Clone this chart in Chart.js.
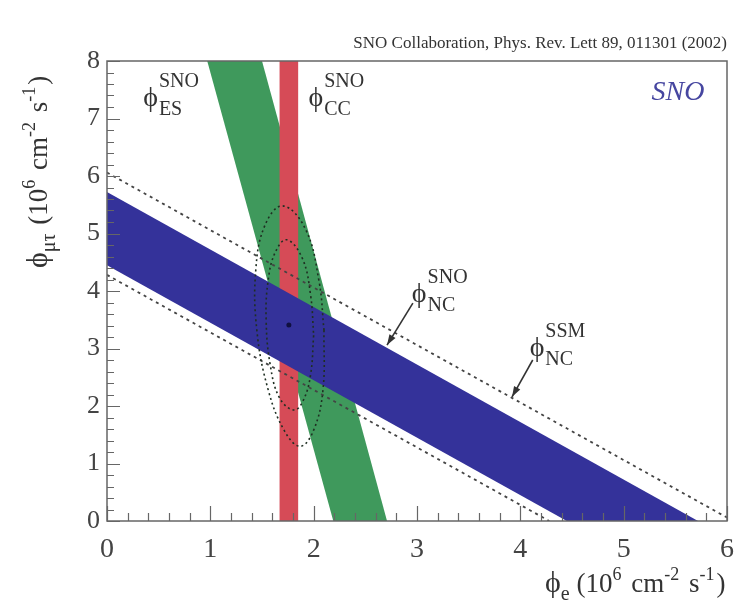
<!DOCTYPE html>
<html>
<head>
<meta charset="utf-8">
<script src="https://cdn.jsdelivr.net/npm/chart.js@4"></script>
<style>
  html, body { margin: 0; padding: 0; background: #fff; }
  #wrap { width: 747px; height: 614px; position: relative; }
</style>
</head>
<body>
<div id="wrap"><canvas id="chart"></canvas></div>
<script>
"use strict";

// axis ranges
const xMin = 0, xMax = 6;
const yMin = 0, yMax = 8;

// flux bands, corners
const ncBand = [{x: 0, y: 5.72}, {x: 5.72, y: 0}, {x: 4.45, y: 0}, {x: 0, y: 4.45}];
const ccBand = [{x: 1.67, y: 0}, {x: 1.85, y: 0}, {x: 1.85, y: 8}, {x: 1.67, y: 8}];
const esBand = [{x: 0.97, y: 8}, {x: 1.50, y: 8}, {x: 2.71, y: 0}, {x: 2.19, y: 0}];

// SSM prediction (dashed lines)
const ssmUpper = [{x: 0, y: 6.06}, {x: 6, y: 0.06}];
const ssmLower = [{x: 0, y: 4.28}, {x: 4.28, y: 0}];

// confidence contours around the best fit point
const contourOuter = [
  {x: 2.10, y: 3.32}, {x: 2.09, y: 2.28}, {x: 2.00, y: 1.58}, {x: 1.87, y: 1.30},
  {x: 1.72, y: 1.56}, {x: 1.56, y: 2.28}, {x: 1.45, y: 3.32}, {x: 1.44, y: 4.37},
  {x: 1.53, y: 5.15}, {x: 1.70, y: 5.48}, {x: 1.92, y: 5.08}, {x: 2.05, y: 4.19},
  {x: 2.10, y: 3.32}
];
const contourInner = [
  {x: 2.00, y: 3.23}, {x: 1.97, y: 2.54}, {x: 1.90, y: 2.10}, {x: 1.81, y: 1.93},
  {x: 1.67, y: 2.14}, {x: 1.58, y: 2.71}, {x: 1.54, y: 3.50}, {x: 1.56, y: 4.19},
  {x: 1.63, y: 4.68}, {x: 1.74, y: 4.89}, {x: 1.89, y: 4.57}, {x: 1.97, y: 3.93},
  {x: 2.00, y: 3.23}
];
const bestFit = [{x: 1.76, y: 3.41}];

// arrows, tail -> tip
const arrowSNO = [{x: 2.96, y: 3.79}, {x: 2.71, y: 3.06}];
const arrowSSM = [{x: 4.12, y: 2.80}, {x: 3.92, y: 2.16}];

// flux labels (anchor = left / baseline of the phi)
const fluxLabels = [
  {x: 0.35, y: 7.22, sup: 'SNO', sub: 'ES'},
  {x: 1.95, y: 7.22, sup: 'SNO', sub: 'CC'},
  {x: 2.95, y: 3.81, sup: 'SNO', sub: 'NC'},
  {x: 4.09, y: 2.87, sup: 'SSM', sub: 'NC'}
];
const caption = 'SNO Collaboration, Phys. Rev. Lett 89, 011301 (2002)';

const SERIF = '"Liberation Serif", "DejaVu Serif", serif';
const PHI = '\u03D5';

function drawRich(ctx, parts, x, y) {
  let cx = x;
  parts.forEach(p => {
    ctx.font = p.size + 'px ' + SERIF;
    ctx.fillText(p.t, cx, y + (p.dy || 0));
    cx += ctx.measureText(p.t).width + (p.gap || 0);
  });
}

function drawPhi(ctx, px, py, sup, sub) {
  ctx.font = '28px ' + SERIF;
  ctx.fillText(PHI, px, py);
  const w = ctx.measureText(PHI).width + 1;
  ctx.font = '20px ' + SERIF;
  ctx.fillText(sup, px + w, py - 19);
  ctx.fillText(sub, px + w, py + 9);
}

// box around the plot with inward ticks
const frame = {
  id: 'frame',
  afterDatasetsDraw(chart) {
    const {ctx, chartArea: a, scales: {x, y}} = chart;
    ctx.save();
    ctx.strokeStyle = '#666';
    ctx.lineWidth = 1.5;
    ctx.strokeRect(a.left, a.top, a.right - a.left, a.bottom - a.top);
    ctx.lineWidth = 1.2;
    ctx.beginPath();
    for (let i = 0; i <= 30; i++) {
      const px = Math.round(x.getPixelForValue(i / 5)) + 0.5;
      const len = i % 5 === 0 ? 15 : 8;
      ctx.moveTo(px, a.bottom);
      ctx.lineTo(px, a.bottom - len);
    }
    for (let i = 0; i <= 40; i++) {
      const py = Math.round(y.getPixelForValue(i / 5)) + 0.5;
      const len = i % 5 === 0 ? 13 : 7;
      ctx.moveTo(a.left, py);
      ctx.lineTo(a.left + len, py);
    }
    ctx.stroke();

    // arrow heads on the arrow datasets
    chart.data.datasets.forEach((ds, i) => {
      if (!ds.arrow) return;
      const pts = chart.getDatasetMeta(i).data;
      const p0 = pts[pts.length - 2], p1 = pts[pts.length - 1];
      const ang = Math.atan2(p1.y - p0.y, p1.x - p0.x);
      ctx.fillStyle = ds.borderColor;
      ctx.beginPath();
      ctx.moveTo(p1.x, p1.y);
      ctx.lineTo(p1.x - 11 * Math.cos(ang - 0.33), p1.y - 11 * Math.sin(ang - 0.33));
      ctx.lineTo(p1.x - 11 * Math.cos(ang + 0.33), p1.y - 11 * Math.sin(ang + 0.33));
      ctx.closePath();
      ctx.fill();
    });
    ctx.restore();
  }
};

// text labels, caption and axis titles
const texts = {
  id: 'texts',
  afterDraw(chart) {
    const {ctx, chartArea: a, scales: {x, y}} = chart;
    ctx.save();
    ctx.fillStyle = '#333';
    ctx.textBaseline = 'alphabetic';

    ctx.font = '17px ' + SERIF;
    ctx.textAlign = 'right';
    ctx.fillText(caption, a.right, 48, 397);
    ctx.textAlign = 'left';

    fluxLabels.forEach(l => {
      drawPhi(ctx, x.getPixelForValue(l.x), y.getPixelForValue(l.y), l.sup, l.sub);
    });

    ctx.fillStyle = '#4646a0';
    ctx.font = 'italic 28px ' + SERIF;
    ctx.fillText('SNO', x.getPixelForValue(5.27), y.getPixelForValue(7.32));

    ctx.fillStyle = '#333';
    const tail = [
      {t: ' (10', size: 27},
      {t: '6', size: 18, dy: -12, gap: 3},
      {t: ' cm', size: 27},
      {t: '-2', size: 18, dy: -12, gap: 3},
      {t: ' s', size: 27},
      {t: '-1', size: 18, dy: -12, gap: 2},
      {t: ')', size: 27}
    ];
    drawRich(ctx, [{t: PHI, size: 30}, {t: 'e', size: 20, dy: 8}].concat(tail), 545, 592);

    ctx.translate(47, 268);
    ctx.rotate(-Math.PI / 2);
    drawRich(ctx, [{t: PHI, size: 30}, {t: '\u03BC\u03C4', size: 20, dy: 8, gap: 2}].concat(tail), 0, 0);
    ctx.restore();
  }
};

new Chart(document.getElementById('chart'), {
  type: 'scatter',
  data: {
    datasets: [
      {data: arrowSNO, arrow: true, showLine: true, borderColor: '#333', borderWidth: 1.6, pointRadius: 0, order: 0},
      {data: arrowSSM, arrow: true, showLine: true, borderColor: '#333', borderWidth: 1.6, pointRadius: 0, order: 0},
      {data: bestFit, pointRadius: 2.5, pointBackgroundColor: '#101040', pointBorderWidth: 0, order: 1},
      {data: contourInner, showLine: true, tension: 0.4, borderColor: '#1f2f22', borderWidth: 1.6, borderDash: [2, 3], pointRadius: 0, order: 2},
      {data: contourOuter, showLine: true, tension: 0.4, borderColor: '#1f2f22', borderWidth: 1.6, borderDash: [2, 3], pointRadius: 0, order: 2},
      {data: ssmUpper, showLine: true, borderColor: '#444', borderWidth: 1.8, borderDash: [3, 4], pointRadius: 0, order: 3},
      {data: ssmLower, showLine: true, borderColor: '#444', borderWidth: 1.8, borderDash: [3, 4], pointRadius: 0, order: 3},
      {data: ncBand, showLine: true, fill: 'shape', backgroundColor: '#34329a', borderWidth: 0, pointRadius: 0, order: 4},
      {data: ccBand, showLine: true, fill: 'shape', backgroundColor: '#d64b57', borderWidth: 0, pointRadius: 0, order: 5},
      {data: esBand, showLine: true, fill: 'shape', backgroundColor: '#3f995c', borderWidth: 0, pointRadius: 0, order: 6}
    ]
  },
  options: {
    responsive: true,
    maintainAspectRatio: false,
    animation: false,
    events: [],
    layout: {padding: {left: 0, top: 61, right: 20, bottom: 0}},
    plugins: {legend: {display: false}, tooltip: {enabled: false}},
    scales: {
      x: {
        type: 'linear', min: xMin, max: xMax,
        afterFit: s => { s.height = 93; },
        grid: {display: false, drawTicks: false},
        border: {display: false},
        ticks: {stepSize: 1, padding: 12, color: '#444', font: {family: SERIF, size: 28}}
      },
      y: {
        type: 'linear', min: yMin, max: yMax,
        afterFit: s => { s.width = 107; },
        grid: {display: false, drawTicks: false},
        border: {display: false},
        ticks: {stepSize: 1, padding: 7, color: '#444', font: {family: SERIF, size: 26}}
      }
    }
  },
  plugins: [frame, texts]
});
</script>
</body>
</html>
